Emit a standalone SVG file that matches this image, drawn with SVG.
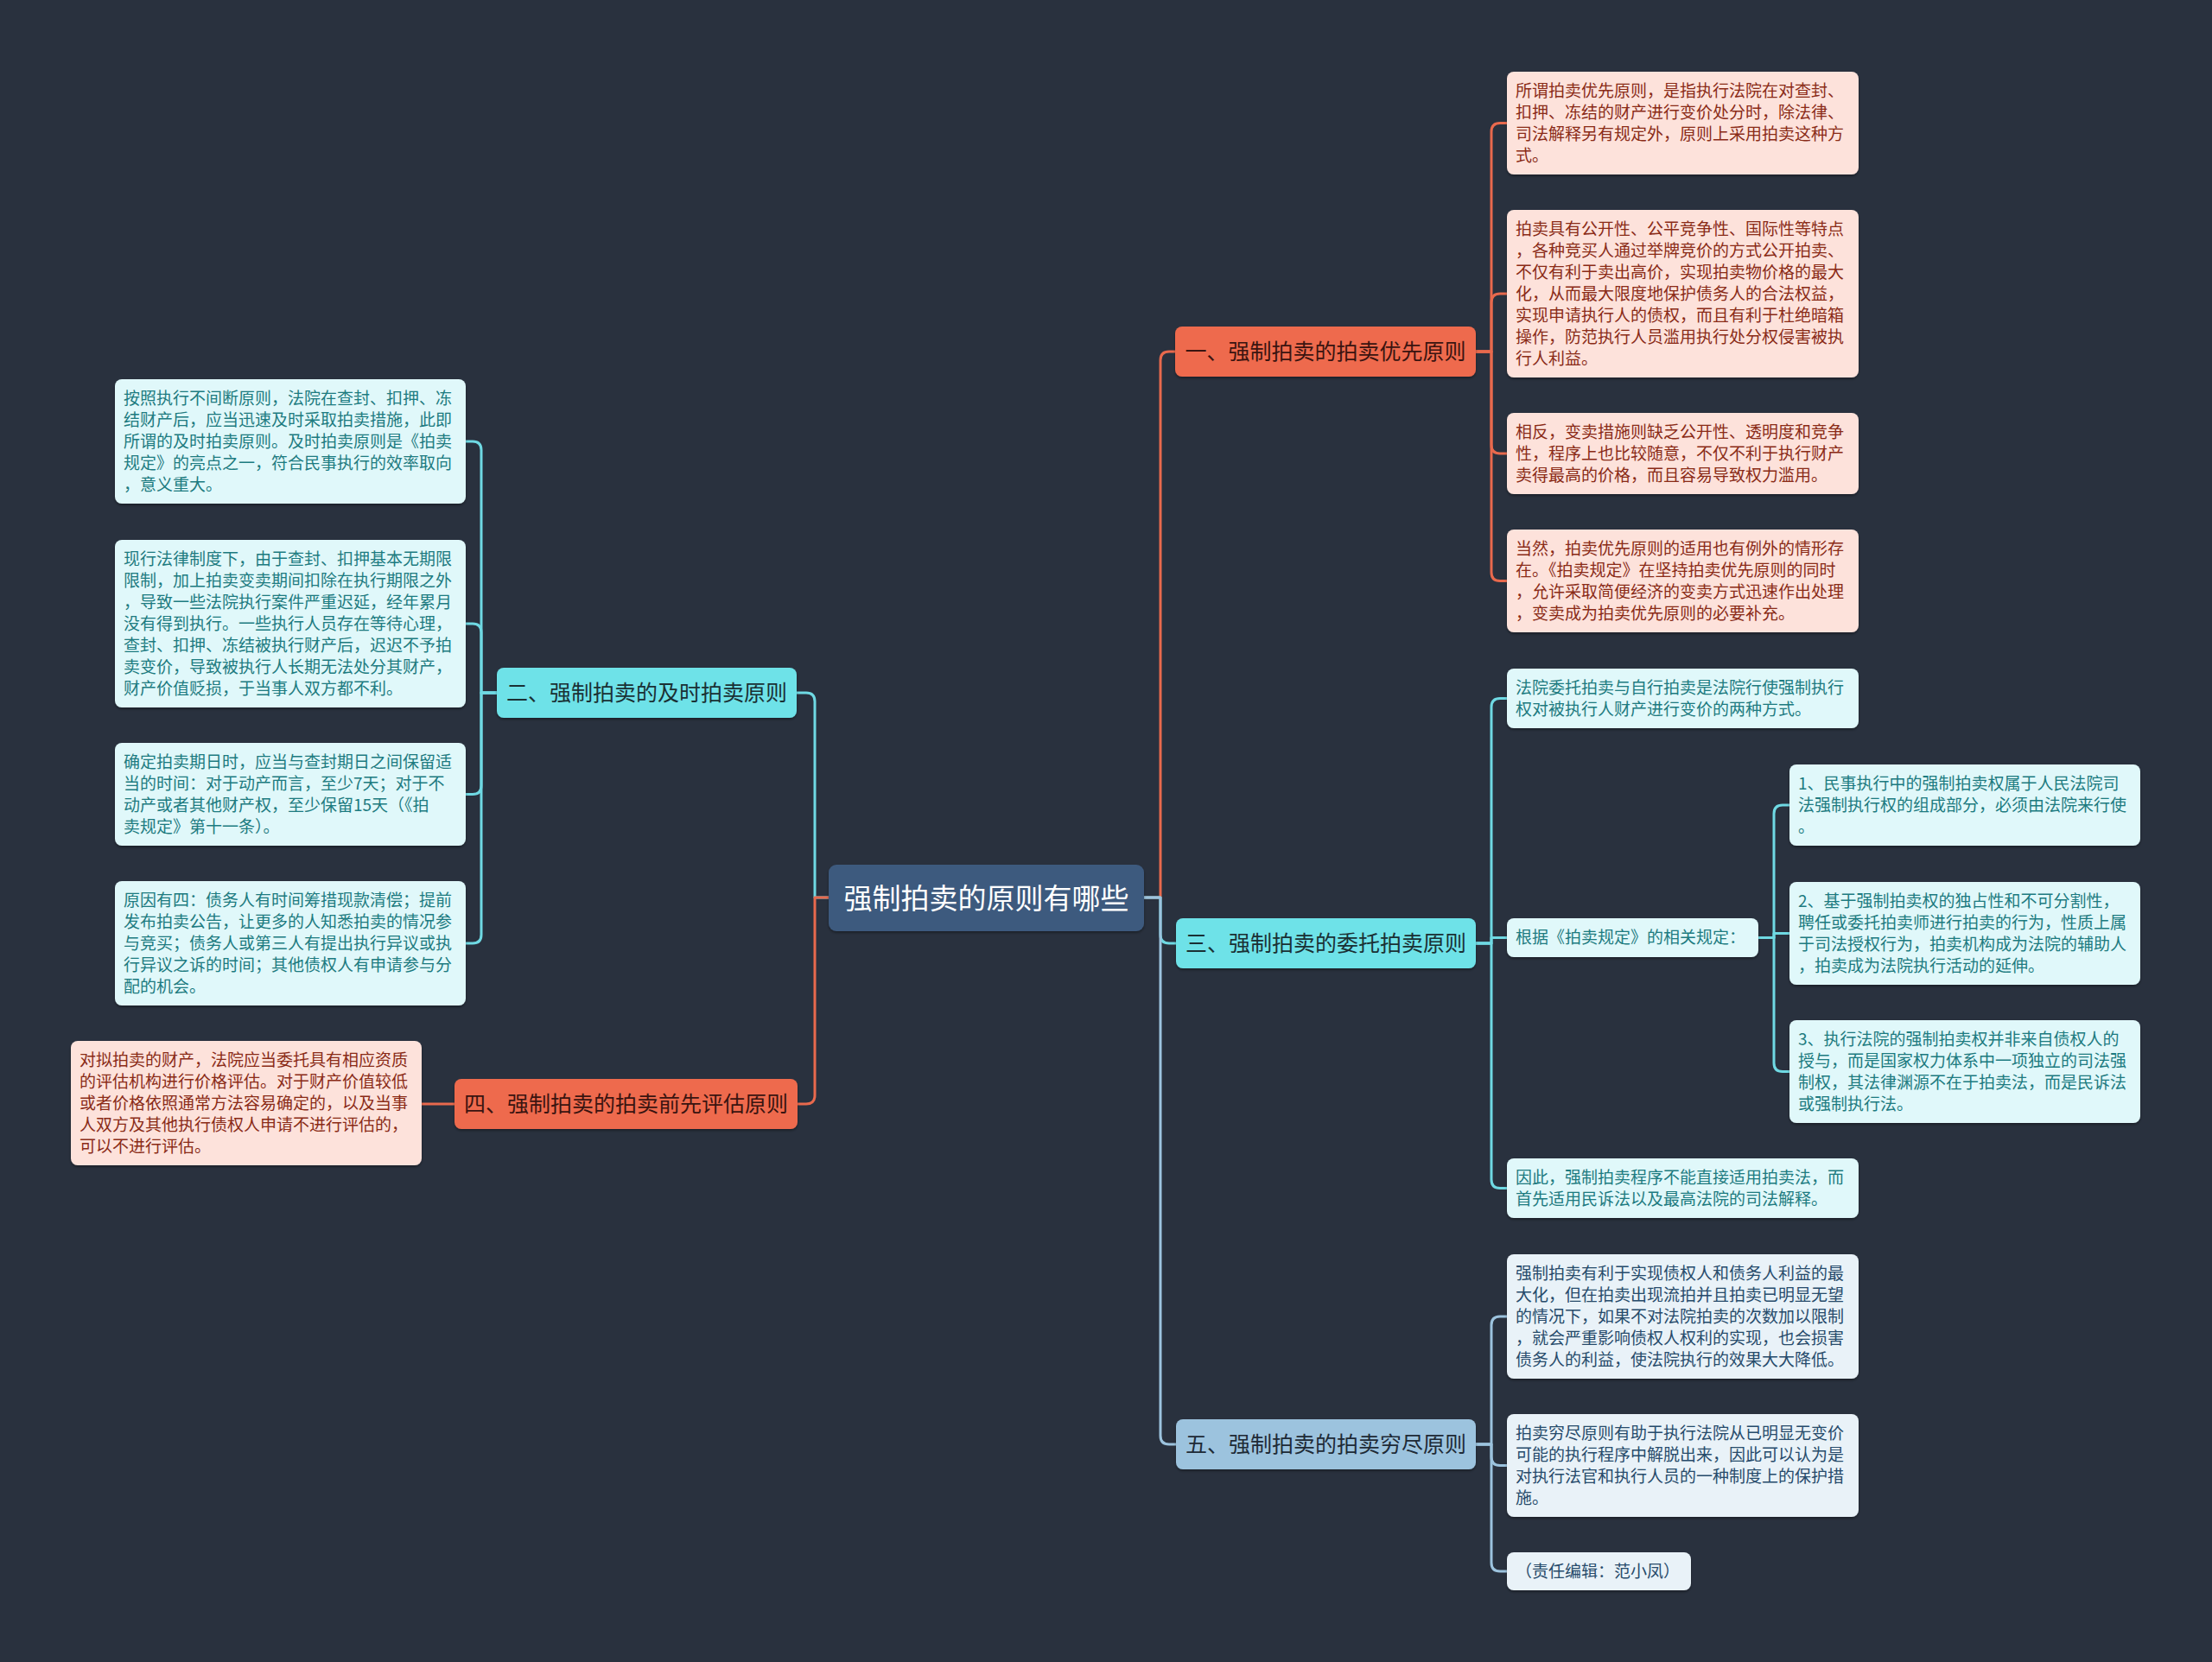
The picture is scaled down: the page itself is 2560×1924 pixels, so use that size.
<svg xmlns="http://www.w3.org/2000/svg" width="2560" height="1924" viewBox="0 0 2560 1924">
<defs>
<filter id="sh" x="-5%" y="-10%" width="110%" height="130%"><feDropShadow dx="0" dy="2" stdDeviation="1.5" flood-color="#000" flood-opacity="0.35"/></filter>
<style>
text{font-family:"Noto Sans CJK SC","Noto Sans",sans-serif;}
.leaf text{font-size:19px;}
.leaf rect{filter:url(#sh);}
.lo rect{fill:#fde2db;} .lo text{fill:#8a2b17;}
.lc rect{fill:#e0f8fa;} .lc text{fill:#1d7b80;}
.lb rect{fill:#e9f2f8;} .lb text{fill:#274b6b;}
.br text{font-size:25px;text-anchor:middle;}
.br rect{filter:url(#sh);}
.bo rect{fill:#ee6b4d;} .bo text{fill:#3a1410;}
.bc rect{fill:#6ee2e8;} .bc text{fill:#1a3034;}
.bb rect{fill:#9cc3de;} .bb text{fill:#1e2a36;}
.root rect{fill:#3e5a7e;filter:url(#sh);} .root text{fill:#ffffff;font-size:33px;text-anchor:middle;}
.c{fill:none;stroke-width:3;stroke-linecap:round;stroke-linejoin:round;}
.co{stroke:#e8694d;} .cc{stroke:#6fd9e3;} .cb{stroke:#9cc3de;}
</style>
</defs>
<rect x="0" y="0" width="2560" height="1924" fill="#29313e"/>

<g id="connectors">
<path class="c co" d="M1324 1039 H1343 V417 Q1343 407 1353 407 H1360"/>
<path class="c cc" d="M1324 1039 H1343 V1082 Q1343 1092 1353 1092 H1361"/>
<path class="c cb" d="M1324 1039 H1343 V1662 Q1343 1672 1353 1672 H1361"/>
<path class="c cc" d="M959 1039 H943 V812 Q943 802 933 802 H922"/>
<path class="c co" d="M959 1039 H943 V1268 Q943 1278 933 1278 H923"/>

<path class="c co" d="M1708 407 H1726 V152.5 Q1726 142.5 1736 142.5 H1744"/>
<path class="c co" d="M1708 407 H1726 V350 Q1726 340 1736 340 H1744"/>
<path class="c co" d="M1708 407 H1726 V515 Q1726 525 1736 525 H1744"/>
<path class="c co" d="M1708 407 H1726 V662.5 Q1726 672.5 1736 672.5 H1744"/>

<path class="c cc" d="M1708 1092 H1726 V818.5 Q1726 808.5 1736 808.5 H1744"/>
<path class="c cc" d="M1708 1092 H1726 V1085.5 H1744"/>
<path class="c cc" d="M1708 1092 H1726 V1365.5 Q1726 1375.5 1736 1375.5 H1744"/>

<path class="c cc" d="M2035 1085.5 H2053 V942 Q2053 932 2063 932 H2071"/>
<path class="c cc" d="M2035 1085.5 H2053 V1080.5 H2071"/>
<path class="c cc" d="M2035 1085.5 H2053 V1230.5 Q2053 1240.5 2063 1240.5 H2071"/>

<path class="c cb" d="M1708 1672 H1726 V1534 Q1726 1524 1736 1524 H1744"/>
<path class="c cb" d="M1708 1672 H1726 V1686.5 Q1726 1696.5 1736 1696.5 H1744"/>
<path class="c cb" d="M1708 1672 H1726 V1809 Q1726 1819 1736 1819 H1744"/>

<path class="c cc" d="M575 802 H557 V521 Q557 511 547 511 H539"/>
<path class="c cc" d="M575 802 H557 V732 Q557 722 547 722 H539"/>
<path class="c cc" d="M575 802 H557 V909.5 Q557 919.5 547 919.5 H539"/>
<path class="c cc" d="M575 802 H557 V1082 Q557 1092 547 1092 H539"/>

<path class="c co" d="M526 1278 H488"/>
</g>

<g id="root" class="root">
<rect x="959" y="1001" width="365" height="77" rx="9"/>
<text x="1141.5" y="1052">强制拍卖的原则有哪些</text>
</g>

<g id="b1" class="br bo">
<rect x="1360" y="378" width="348" height="58" rx="8"/>
<text x="1534" y="416">一、强制拍卖的拍卖优先原则</text>
</g>
<g id="b2" class="br bc">
<rect x="575" y="773" width="347" height="58" rx="8"/>
<text x="748.5" y="811">二、强制拍卖的及时拍卖原则</text>
</g>
<g id="b3" class="br bc">
<rect x="1361" y="1063" width="347" height="58" rx="8"/>
<text x="1534.5" y="1101">三、强制拍卖的委托拍卖原则</text>
</g>
<g id="b4" class="br bo">
<rect x="526" y="1249" width="397" height="58" rx="8"/>
<text x="724.5" y="1287">四、强制拍卖的拍卖前先评估原则</text>
</g>
<g id="b5" class="br bb">
<rect x="1361" y="1643" width="347" height="58" rx="8"/>
<text x="1534.5" y="1681">五、强制拍卖的拍卖穷尽原则</text>
</g>

<g id="l1" class="leaf lo">
<rect x="1744" y="83" width="407" height="119" rx="8"/>
<text><tspan x="1754" y="112">所谓拍卖优先原则，是指执行法院在对查封、</tspan><tspan x="1754" y="137">扣押、冻结的财产进行变价处分时，除法律、</tspan><tspan x="1754" y="162">司法解释另有规定外，原则上采用拍卖这种方</tspan><tspan x="1754" y="187">式。</tspan></text>
</g>
<g id="l2" class="leaf lo">
<rect x="1744" y="243" width="407" height="194" rx="8"/>
<text><tspan x="1754" y="272">拍卖具有公开性、公平竞争性、国际性等特点</tspan><tspan x="1754" y="297">，各种竞买人通过举牌竞价的方式公开拍卖、</tspan><tspan x="1754" y="322">不仅有利于卖出高价，实现拍卖物价格的最大</tspan><tspan x="1754" y="347">化，从而最大限度地保护债务人的合法权益，</tspan><tspan x="1754" y="372">实现申请执行人的债权，而且有利于杜绝暗箱</tspan><tspan x="1754" y="397">操作，防范执行人员滥用执行处分权侵害被执</tspan><tspan x="1754" y="422">行人利益。</tspan></text>
</g>
<g id="l3" class="leaf lo">
<rect x="1744" y="478" width="407" height="94" rx="8"/>
<text><tspan x="1754" y="507">相反，变卖措施则缺乏公开性、透明度和竞争</tspan><tspan x="1754" y="532">性，程序上也比较随意，不仅不利于执行财产</tspan><tspan x="1754" y="557">卖得最高的价格，而且容易导致权力滥用。</tspan></text>
</g>
<g id="l4" class="leaf lo">
<rect x="1744" y="613" width="407" height="119" rx="8"/>
<text><tspan x="1754" y="642">当然，拍卖优先原则的适用也有例外的情形存</tspan><tspan x="1754" y="667">在。《拍卖规定》在坚持拍卖优先原则的同时</tspan><tspan x="1754" y="692">，允许采取简便经济的变卖方式迅速作出处理</tspan><tspan x="1754" y="717">，变卖成为拍卖优先原则的必要补充。</tspan></text>
</g>

<g id="l5" class="leaf lc">
<rect x="1744" y="774" width="407" height="69" rx="8"/>
<text><tspan x="1754" y="803">法院委托拍卖与自行拍卖是法院行使强制执行</tspan><tspan x="1754" y="828">权对被执行人财产进行变价的两种方式。</tspan></text>
</g>
<g id="l6" class="leaf lc">
<rect x="1744" y="1063" width="291" height="45" rx="8"/>
<text><tspan x="1754" y="1092">根据《拍卖规定》的相关规定：</tspan></text>
</g>
<g id="l7" class="leaf lc">
<rect x="2071" y="885" width="406" height="94" rx="8"/>
<text><tspan x="2081" y="914">1、民事执行中的强制拍卖权属于人民法院司</tspan><tspan x="2081" y="939">法强制执行权的组成部分，必须由法院来行使</tspan><tspan x="2081" y="964">。</tspan></text>
</g>
<g id="l8" class="leaf lc">
<rect x="2071" y="1021" width="406" height="119" rx="8"/>
<text><tspan x="2081" y="1050">2、基于强制拍卖权的独占性和不可分割性，</tspan><tspan x="2081" y="1075">聘任或委托拍卖师进行拍卖的行为，性质上属</tspan><tspan x="2081" y="1100">于司法授权行为，拍卖机构成为法院的辅助人</tspan><tspan x="2081" y="1125">，拍卖成为法院执行活动的延伸。</tspan></text>
</g>
<g id="l9" class="leaf lc">
<rect x="2071" y="1181" width="406" height="119" rx="8"/>
<text><tspan x="2081" y="1210">3、执行法院的强制拍卖权并非来自债权人的</tspan><tspan x="2081" y="1235">授与，而是国家权力体系中一项独立的司法强</tspan><tspan x="2081" y="1260">制权，其法律渊源不在于拍卖法，而是民诉法</tspan><tspan x="2081" y="1285">或强制执行法。</tspan></text>
</g>
<g id="l10" class="leaf lc">
<rect x="1744" y="1341" width="407" height="69" rx="8"/>
<text><tspan x="1754" y="1370">因此，强制拍卖程序不能直接适用拍卖法，而</tspan><tspan x="1754" y="1395">首先适用民诉法以及最高法院的司法解释。</tspan></text>
</g>

<g id="l11" class="leaf lb">
<rect x="1744" y="1452" width="407" height="144" rx="8"/>
<text><tspan x="1754" y="1481">强制拍卖有利于实现债权人和债务人利益的最</tspan><tspan x="1754" y="1506">大化，但在拍卖出现流拍并且拍卖已明显无望</tspan><tspan x="1754" y="1531">的情况下，如果不对法院拍卖的次数加以限制</tspan><tspan x="1754" y="1556">，就会严重影响债权人权利的实现，也会损害</tspan><tspan x="1754" y="1581">债务人的利益，使法院执行的效果大大降低。</tspan></text>
</g>
<g id="l12" class="leaf lb">
<rect x="1744" y="1637" width="407" height="119" rx="8"/>
<text><tspan x="1754" y="1666">拍卖穷尽原则有助于执行法院从已明显无变价</tspan><tspan x="1754" y="1691">可能的执行程序中解脱出来，因此可以认为是</tspan><tspan x="1754" y="1716">对执行法官和执行人员的一种制度上的保护措</tspan><tspan x="1754" y="1741">施。</tspan></text>
</g>
<g id="l13" class="leaf lb">
<rect x="1744" y="1797" width="213" height="44" rx="8"/>
<text><tspan x="1754" y="1826">（责任编辑：范小凤）</tspan></text>
</g>

<g id="l14" class="leaf lc">
<rect x="133" y="439" width="406" height="144" rx="8"/>
<text><tspan x="143" y="468">按照执行不间断原则，法院在查封、扣押、冻</tspan><tspan x="143" y="493">结财产后，应当迅速及时采取拍卖措施，此即</tspan><tspan x="143" y="518">所谓的及时拍卖原则。及时拍卖原则是《拍卖</tspan><tspan x="143" y="543">规定》的亮点之一，符合民事执行的效率取向</tspan><tspan x="143" y="568">，意义重大。</tspan></text>
</g>
<g id="l15" class="leaf lc">
<rect x="133" y="625" width="406" height="194" rx="8"/>
<text><tspan x="143" y="654">现行法律制度下，由于查封、扣押基本无期限</tspan><tspan x="143" y="679">限制，加上拍卖变卖期间扣除在执行期限之外</tspan><tspan x="143" y="704">，导致一些法院执行案件严重迟延，经年累月</tspan><tspan x="143" y="729">没有得到执行。一些执行人员存在等待心理，</tspan><tspan x="143" y="754">查封、扣押、冻结被执行财产后，迟迟不予拍</tspan><tspan x="143" y="779">卖变价，导致被执行人长期无法处分其财产，</tspan><tspan x="143" y="804">财产价值贬损，于当事人双方都不利。</tspan></text>
</g>
<g id="l16" class="leaf lc">
<rect x="133" y="860" width="406" height="119" rx="8"/>
<text><tspan x="143" y="889">确定拍卖期日时，应当与查封期日之间保留适</tspan><tspan x="143" y="914">当的时间：对于动产而言，至少7天；对于不</tspan><tspan x="143" y="939">动产或者其他财产权，至少保留15天（《拍</tspan><tspan x="143" y="964">卖规定》第十一条）。</tspan></text>
</g>
<g id="l17" class="leaf lc">
<rect x="133" y="1020" width="406" height="144" rx="8"/>
<text><tspan x="143" y="1049">原因有四：债务人有时间筹措现款清偿；提前</tspan><tspan x="143" y="1074">发布拍卖公告，让更多的人知悉拍卖的情况参</tspan><tspan x="143" y="1099">与竞买；债务人或第三人有提出执行异议或执</tspan><tspan x="143" y="1124">行异议之诉的时间；其他债权人有申请参与分</tspan><tspan x="143" y="1149">配的机会。</tspan></text>
</g>

<g id="l18" class="leaf lo">
<rect x="82" y="1205" width="406" height="144" rx="8"/>
<text><tspan x="92" y="1234">对拟拍卖的财产，法院应当委托具有相应资质</tspan><tspan x="92" y="1259">的评估机构进行价格评估。对于财产价值较低</tspan><tspan x="92" y="1284">或者价格依照通常方法容易确定的，以及当事</tspan><tspan x="92" y="1309">人双方及其他执行债权人申请不进行评估的，</tspan><tspan x="92" y="1334">可以不进行评估。</tspan></text>
</g>
</svg>
